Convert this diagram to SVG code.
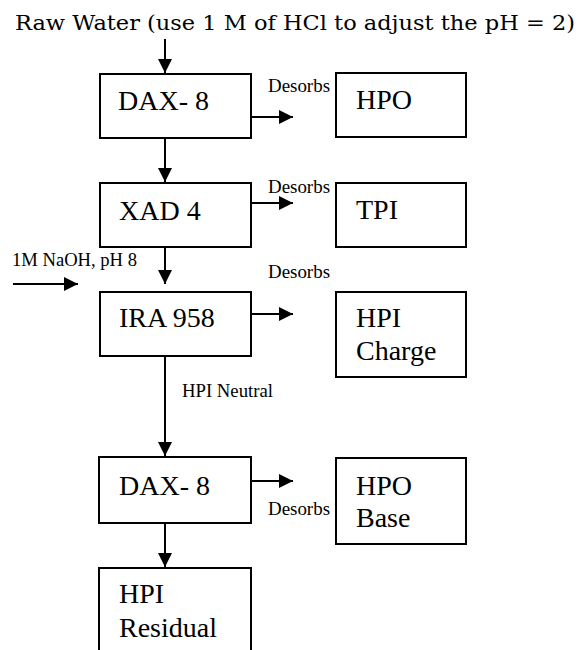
<svg xmlns="http://www.w3.org/2000/svg" width="580" height="650" viewBox="0 0 580 650">
<style>
.box{fill:#fff;stroke:#000;stroke-width:2}
.big{font-family:"Liberation Serif","Times New Roman",serif;font-size:28px;fill:#000}
.small{font-family:"Liberation Serif","Times New Roman",serif;font-size:18px;fill:#000}
.title{font-family:"DejaVu Serif",serif;font-size:21px;fill:#000}
.conn line{stroke:#000;stroke-width:2;marker-end:url(#ah)}
</style>
<defs>
<marker id="ah" markerUnits="userSpaceOnUse" markerWidth="16" markerHeight="16" refX="14" refY="7" orient="auto" overflow="visible">
<path d="M0,0 L14,7 L0,14 z" fill="#000"/>
</marker>
</defs>
<rect width="580" height="650" fill="#fff"/>
<text class="title" x="15" y="30" textLength="560" lengthAdjust="spacingAndGlyphs">Raw Water (use 1 M of HCl to adjust the pH = 2)</text>

<g id="dax8a"><rect class="box" x="100" y="74" width="151" height="64"/><text class="big" x="118" y="110">DAX- 8</text></g>
<g id="hpo"><rect class="box" x="336" y="73" width="130" height="64"/><text class="big" x="356" y="109">HPO</text></g>
<g id="xad4"><rect class="box" x="100" y="183" width="151" height="64"/><text class="big" x="119" y="220">XAD 4</text></g>
<g id="tpi"><rect class="box" x="336" y="183" width="130" height="64"/><text class="big" x="356" y="219">TPI</text></g>
<g id="ira958"><rect class="box" x="100" y="292" width="151" height="64"/><text class="big" x="119" y="327">IRA 958</text></g>
<g id="hpicharge"><rect class="box" x="336" y="292" width="130" height="85"/><text class="big" x="356" y="327">HPI</text><text class="big" x="356" y="360">Charge</text></g>
<g id="dax8b"><rect class="box" x="99" y="457" width="152" height="66"/><text class="big" x="119" y="495">DAX- 8</text></g>
<g id="hpobase"><rect class="box" x="336" y="458" width="130" height="86"/><text class="big" x="356" y="495">HPO</text><text class="big" x="356" y="527">Base</text></g>
<g id="hpiresidual"><rect class="box" x="99" y="568" width="152" height="100"/><text class="big" x="119" y="603">HPI</text><text class="big" x="119" y="637">Residual</text></g>

<g class="conn">
<line x1="165" y1="39" x2="165" y2="73"/>
<line x1="251" y1="117" x2="293" y2="117"/>
<line x1="165" y1="138" x2="165" y2="182"/>
<line x1="251" y1="203" x2="293" y2="203"/>
<line x1="165" y1="247" x2="165" y2="284"/>
<line x1="13" y1="284" x2="78" y2="284"/>
<line x1="251" y1="314" x2="293" y2="314"/>
<line x1="165" y1="356" x2="165" y2="456"/>
<line x1="251" y1="481" x2="293" y2="481"/>
<line x1="165" y1="523" x2="165" y2="567"/>
</g>
<g id="labels">
<text class="small" x="268" y="92" textLength="62" lengthAdjust="spacingAndGlyphs">Desorbs</text>
<text class="small" x="268" y="193" textLength="62" lengthAdjust="spacingAndGlyphs">Desorbs</text>
<text class="small" x="268" y="278" textLength="62" lengthAdjust="spacingAndGlyphs">Desorbs</text>
<text class="small" x="268" y="515" textLength="62" lengthAdjust="spacingAndGlyphs">Desorbs</text>
<text class="small" x="12" y="266" textLength="125" lengthAdjust="spacingAndGlyphs">1M NaOH, pH 8</text>
<text class="small" x="182" y="397" textLength="91" lengthAdjust="spacingAndGlyphs">HPI Neutral</text>
</g>
</svg>
